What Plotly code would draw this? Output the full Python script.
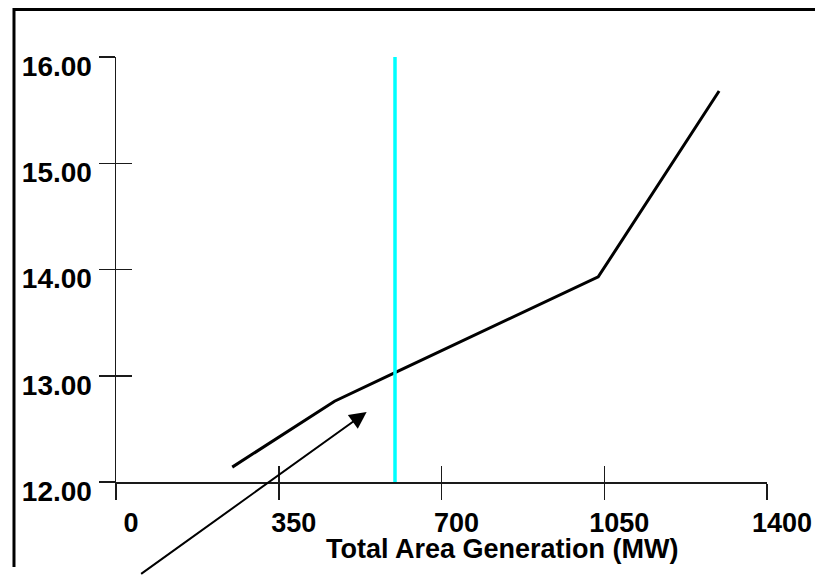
import plotly.graph_objects as go

# ---- data ----
gen_mw = [250, 350, 440, 470, 600, 800, 1037, 1297]
cost = [12.14, 12.42, 12.68, 12.76, 13.03, 13.44, 13.93, 15.68]
current_gen = 600

x_ticks = [0, 350, 700, 1050, 1400]
x_tick_labels = ["0", "350", "700", "1050", "1400"]
y_ticks = [12, 13, 14, 15, 16]
y_tick_labels = ["12.00", "13.00", "14.00", "15.00", "16.00"]
x_title = "Total Area Generation (MW)"

FONT = "Liberation Sans, Arial, sans-serif"
AX_COLOR = "#1a1a1a"

fig = go.Figure()
fig.add_trace(go.Scatter(x=gen_mw, y=cost, mode="lines",
                         line=dict(color="black", width=3), hoverinfo="skip",
                         showlegend=False))
fig.add_trace(go.Scatter(x=[current_gen, current_gen], y=[y_ticks[0], y_ticks[-1]],
                         mode="lines", line=dict(color="#00FFFF", width=3.5),
                         hoverinfo="skip", showlegend=False))
# empty trace to host the overlay axes (inner half of crossing ticks)
fig.add_trace(go.Scatter(x=[], y=[], xaxis="x2", yaxis="y2", showlegend=False))

ytickfont = dict(family=FONT, size=28, color="black", weight="bold")
xtickfont = dict(family=FONT, size=27, color="black", weight="bold")

fig.update_layout(
    width=815, height=575, autosize=False,
    margin=dict(l=116, r=48, t=57, b=93, autoexpand=False),
    paper_bgcolor="white", plot_bgcolor="white",
    showlegend=False,
    xaxis=dict(range=[x_ticks[0], x_ticks[-1]], tickvals=x_ticks, ticktext=x_tick_labels,
               ticks="outside", ticklen=16, tickwidth=1.5, tickcolor=AX_COLOR,
               showline=True, linecolor=AX_COLOR, linewidth=1.5,
               showgrid=False, zeroline=False, tickfont=xtickfont, automargin=False,
               ticklabelshift=15, ticklabelstandoff=0, ticklabeloverflow="allow"),
    yaxis=dict(range=[y_ticks[0], y_ticks[-1]], tickvals=y_ticks, ticktext=y_tick_labels,
               ticks="outside", ticklen=16, tickwidth=1.5, tickcolor=AX_COLOR,
               showline=True, linecolor=AX_COLOR, linewidth=1.5,
               showgrid=False, zeroline=False, tickfont=ytickfont, automargin=False,
               ticklabelshift=9, ticklabelstandoff=1, ticklabeloverflow="allow"),
    xaxis2=dict(overlaying="x", anchor="y2", range=[x_ticks[0], x_ticks[-1]],
                tickvals=x_ticks, ticks="inside", ticklen=16, tickwidth=1.5,
                tickcolor=AX_COLOR, showticklabels=False, showline=False,
                showgrid=False, zeroline=False, automargin=False),
    yaxis2=dict(overlaying="y", anchor="x2", range=[y_ticks[0], y_ticks[-1]],
                tickvals=y_ticks, ticks="inside", ticklen=16, tickwidth=1.5,
                tickcolor=AX_COLOR, showticklabels=False, showline=False,
                showgrid=False, zeroline=False, automargin=False),
)

# outer frame: only its top and left edges fall inside the picture
fig.add_shape(type="path", xref="paper", yref="paper",
              path="M -0.1567,-0.2 L -0.1567,1.1118 L 1.2,1.1118",
              line=dict(color="black", width=3), layer="above")

# axis title
fig.add_annotation(text=x_title, xref="paper", yref="paper", x=0.593, y=-0.158,
                   xanchor="center", yanchor="middle", showarrow=False,
                   font=dict(family=FONT, size=27, color="black", weight="bold"))

# pointer arrow
fig.add_annotation(text="", x=539, y=12.66, xref="x", yref="y",
                   ax=-227, ay=164, showarrow=True, arrowhead=2, arrowsize=1.7,
                   arrowwidth=2, arrowcolor="black")

fig.write_html("out.html",
               config={"responsive": False, "displayModeBar": False,
                       "staticPlot": True},
               post_script="document.body.style.margin='0';"
                           "document.documentElement.style.overflow='hidden';")
